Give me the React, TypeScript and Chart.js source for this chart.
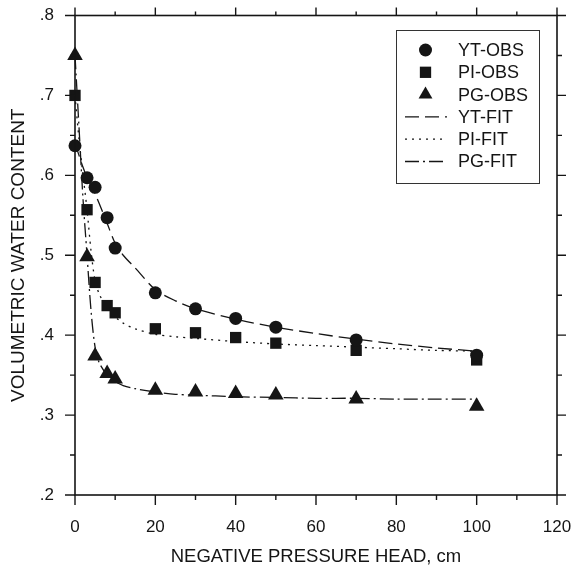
import React, { useEffect, useRef } from 'react';
import { Chart, registerables } from 'chart.js';

Chart.register(...registerables);

// ---- data ----
const obsX = [0, 3, 5, 8, 10, 20, 30, 40, 50, 70, 100];
const ytObs = [0.637, 0.597, 0.585, 0.547, 0.509, 0.453, 0.433, 0.421, 0.410, 0.394, 0.375];
const piObs = [0.700, 0.557, 0.466, 0.437, 0.428, 0.408, 0.403, 0.397, 0.390, 0.381, 0.369];
const pgObs = [0.750, 0.498, 0.374, 0.352, 0.345, 0.331, 0.329, 0.327, 0.325, 0.320, 0.311];

const fitX = [0, 1, 2, 3, 4, 5, 6, 8, 10, 12, 15, 20, 25, 30, 40, 50, 60, 70, 80, 90, 100];
const ytFit = [0.640, 0.625, 0.610, 0.597, 0.587, 0.577, 0.565, 0.540, 0.515, 0.500, 0.484, 0.457, 0.443, 0.433, 0.420, 0.410, 0.402, 0.395, 0.389, 0.384, 0.380];
const piFit = [0.700, 0.645, 0.600, 0.557, 0.505, 0.468, 0.452, 0.433, 0.423, 0.415, 0.408, 0.401, 0.398, 0.396, 0.392, 0.389, 0.387, 0.385, 0.383, 0.381, 0.380];
const pgFit = [0.750, 0.660, 0.570, 0.500, 0.430, 0.385, 0.366, 0.350, 0.342, 0.337, 0.333, 0.329, 0.326, 0.325, 0.323, 0.322, 0.321, 0.321, 0.320, 0.320, 0.320];

const seriesNames = ['YT-OBS', 'PI-OBS', 'PG-OBS', 'YT-FIT', 'PI-FIT', 'PG-FIT'];
const xTitle = 'NEGATIVE PRESSURE HEAD, cm';
const yTitle = 'VOLUMETRIC WATER CONTENT';
const xMin = 0, xMax = 120, xStep = 10, xLabelEvery = 20;
const yMin = 0.2, yMax = 0.8, yStep = 0.05;

const INK = '#151515';
const FONT = "'Liberation Sans', Arial, sans-serif";

const toPts = (xs: number[], ys: number[]) => xs.map((x, i) => ({ x, y: ys[i] }));
const isMajorY = (v: number) => Math.abs(v * 10 - Math.round(v * 10)) < 1e-6;
const isMajorX = (v: number) => Math.abs(v / xLabelEvery - Math.round(v / xLabelEvery)) < 1e-6;

function drawMarker(ctx: CanvasRenderingContext2D, style: string, x: number, y: number, r: number) {
  ctx.beginPath();
  if (style === 'circle') {
    ctx.arc(x, y, r, 0, Math.PI * 2);
  } else if (style === 'rect') {
    const s = Math.SQRT1_2 * r;
    ctx.rect(x - s, y - s, 2 * s, 2 * s);
  } else {
    const h = r * 1.5;
    const w = r * Math.sqrt(3) / 2;
    ctx.moveTo(x, y - r);
    ctx.lineTo(x + w, y - r + h);
    ctx.lineTo(x - w, y - r + h);
    ctx.closePath();
  }
  ctx.fill();
}

const framePlugin = {
  id: 'frameAndLegend',
  afterDraw(chart: any) {
    const { ctx, chartArea: a, scales } = chart;
    const xs = scales.x, ys = scales.y;
    ctx.save();
    ctx.strokeStyle = INK;
    ctx.lineWidth = 1.6;
    ctx.setLineDash([]);
    ctx.strokeRect(a.left, a.top, a.right - a.left, a.bottom - a.top);
    ctx.lineWidth = 1.4;
    ctx.beginPath();
    xs.ticks.forEach((t: any) => {
      const px = xs.getPixelForValue(t.value);
      const major = isMajorX(t.value);
      ctx.moveTo(px, a.bottom); ctx.lineTo(px, a.bottom + (major ? 10 : 5));
      ctx.moveTo(px, a.top); ctx.lineTo(px, a.top - (major ? 8 : 4));
    });
    ys.ticks.forEach((t: any) => {
      const py = ys.getPixelForValue(t.value);
      const major = isMajorY(t.value);
      ctx.moveTo(a.left, py); ctx.lineTo(a.left - (major ? 10 : 5), py);
      ctx.moveTo(a.right, py); ctx.lineTo(a.right + (major ? 9 : 5), py);
    });
    ctx.stroke();

    // legend box
    const bx = 396, by = 30, bw = 143, bh = 153;
    ctx.fillStyle = '#fff';
    ctx.fillRect(bx, by, bw, bh);
    ctx.strokeStyle = '#333';
    ctx.lineWidth = 1;
    ctx.strokeRect(bx + 0.5, by + 0.5, bw, bh);
    const y0 = 50, dy = 22.3, symX = 425.5, lx0 = 405, lx1 = 447, tx = 458;
    ctx.font = `18px ${FONT}`;
    ctx.textBaseline = 'middle';
    ctx.textAlign = 'left';
    chart.data.datasets.forEach((ds: any, i: number) => {
      const yy = y0 + i * dy;
      if (ds.showLine === false) {
        ctx.fillStyle = INK;
        drawMarker(ctx, ds.pointStyle, symX, yy, ds.pointStyle === 'circle' ? 6.5 : 8);
      } else {
        ctx.strokeStyle = INK;
        ctx.lineWidth = ds.borderWidth;
        ctx.setLineDash(ds.borderDash || []);
        ctx.beginPath();
        ctx.moveTo(lx0, yy); ctx.lineTo(lx1, yy);
        ctx.stroke();
        ctx.setLineDash([]);
      }
      ctx.fillStyle = INK;
      ctx.fillText(ds.label, tx, yy + 1);
    });
    ctx.restore();
  },
};

export default function App() {
  const ref = useRef<HTMLCanvasElement | null>(null);
  useEffect(() => {
    if (!ref.current) return;
    Chart.defaults.font.family = FONT;
    Chart.defaults.color = INK;
    const obsBase = (label: string, data: number[], style: string, r: number) => ({
      label,
      data: toPts(obsX, data),
      showLine: false,
      pointStyle: style,
      pointRadius: r,
      pointBackgroundColor: INK,
      pointBorderColor: INK,
      pointBorderWidth: 0,
      backgroundColor: INK,
      borderColor: INK,
      clip: false as const,
    });
    const fitBase = (label: string, data: number[], dash: number[]) => ({
      label,
      data: toPts(fitX, data),
      showLine: true,
      pointRadius: 0,
      borderColor: INK,
      borderWidth: 1.3,
      borderDash: dash,
      tension: 0.3,
      fill: false,
      clip: false as const,
    });
    const chart = new Chart(ref.current, {
      type: 'scatter',
      data: {
        datasets: [
          obsBase(seriesNames[0], ytObs, 'circle', 6.5),
          obsBase(seriesNames[1], piObs, 'rect', 8),
          obsBase(seriesNames[2], pgObs, 'triangle', 9),
          fitBase(seriesNames[3], ytFit, [14, 6]),
          fitBase(seriesNames[4], piFit, [2, 5]),
          fitBase(seriesNames[5], pgFit, [14, 4, 2, 4]),
        ] as any,
      },
      options: {
        animation: false,
        responsive: false,
        events: [],
        layout: { padding: { left: 0, top: 15.5, right: 15, bottom: 0 } },
        plugins: { legend: { display: false }, tooltip: { enabled: false } },
        scales: {
          x: {
            type: 'linear',
            min: xMin,
            max: xMax,
            border: { display: false },
            grid: { display: true, drawOnChartArea: false, drawTicks: true, tickLength: 10, color: 'rgba(0,0,0,0)' },
            ticks: {
              stepSize: xStep,
              autoSkip: false,
              maxRotation: 0,
              padding: 12,
              color: INK,
              font: { size: 17, family: FONT },
              callback: (v: any) => (isMajorX(Number(v)) ? String(Math.round(Number(v))) : ''),
            },
            title: { display: true, text: xTitle, color: INK, font: { size: 18.5, family: FONT }, padding: { top: 0, bottom: 1 } },
            afterFit: (s: any) => { s.height = 74; s.paddingRight = 0; s.paddingLeft = 0; },
          },
          y: {
            type: 'linear',
            min: yMin,
            max: yMax,
            border: { display: false },
            grid: { display: true, drawOnChartArea: false, drawTicks: true, tickLength: 10, color: 'rgba(0,0,0,0)' },
            ticks: {
              stepSize: yStep,
              autoSkip: false,
              padding: 11,
              color: INK,
              font: { size: 17, family: FONT },
              callback: (v: any) => (isMajorY(Number(v)) ? '.' + Math.round(Number(v) * 10) : ''),
            },
            title: { display: true, text: yTitle, color: INK, font: { size: 19, family: FONT }, padding: { top: 7.5, bottom: 0 } },
            afterFit: (s: any) => { s.width = 75; s.paddingTop = 0; s.paddingBottom = 0; },
          },
        },
      },
      plugins: [framePlugin],
    });
    return () => chart.destroy();
  }, []);
  return (
    <div style={{ position: 'fixed', left: 0, top: 0, width: 572, height: 569, background: '#fff' }}>
      <canvas ref={ref} width={572} height={569} style={{ display: 'block' }} />
    </div>
  );
}
